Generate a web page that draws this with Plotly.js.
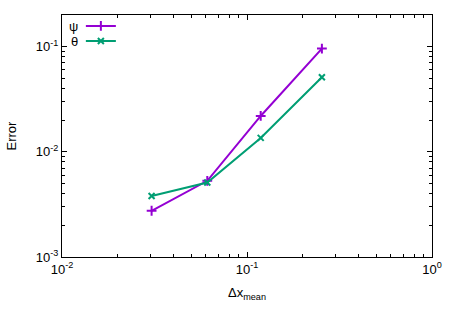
<!DOCTYPE html>
<html><head><meta charset="utf-8">
<script src="https://cdn.plot.ly/plotly-3.0.1.min.js"></script>
<style>html,body{margin:0;padding:0;background:#fff}</style>
</head><body>
<div id="chart" style="width:458px;height:320px"></div>
<script>
const dx = [0.0305, 0.061, 0.1186, 0.254];
const psiErr = [0.00275, 0.0053, 0.0219, 0.0957];
const thetaErr = [0.0038, 0.0051, 0.01355, 0.0511];
const seriesNames = ['ψ', 'θ'];
const xMajor = [0.01, 0.1, 1];
const xMajorText = ['10<sup>-2</sup>', '10<sup>-1</sup>', '10<sup>0</sup>'];
const yMajor = [0.001, 0.01, 0.1];
const yMajorText = ['10<sup>-3</sup>', '10<sup>-2</sup>', '10<sup>-1</sup>'];

function minors(lo, hi) {
  const v = [];
  for (let e = lo; e < hi; e++) for (let k = 2; k <= 9; k++) v.push(k * Math.pow(10, e));
  return v;
}

const font = {family: 'Liberation Sans, Arial, sans-serif', size: 13, color: '#000'};
const traces = [
  {x: dx, y: psiErr, name: ' ', legend: 'legend', mode: 'lines+markers', type: 'scatter',
   line: {color: '#9400d3', width: 2},
   marker: {symbol: 'cross-thin', size: 7, line: {color: '#9400d3', width: 2}}},
  {x: dx, y: thetaErr, name: ' ', legend: 'legend2', mode: 'lines+markers', type: 'scatter',
   line: {color: '#009e73', width: 2},
   marker: {symbol: 'x-thin', size: 6, line: {color: '#009e73', width: 2}}}
];
const axisCommon = {
  type: 'log', showgrid: false, zeroline: false, showline: true, linecolor: '#000', linewidth: 1,
  mirror: 'allticks', ticks: 'inside', ticklen: 5, tickcolor: '#000', tickwidth: 1,
  tickfont: font, tickmode: 'array'
};
const legY = [0.951, 0.889];
const legBase = {x: 0.051, xanchor: 'left', yanchor: 'middle', bgcolor: 'rgba(0,0,0,0)',
                 font: {family: font.family, size: 7}, itemwidth: 30};
const layout = {
  width: 458, height: 320,
  margin: {l: 62, r: 26, t: 14, b: 63},
  paper_bgcolor: '#fff', plot_bgcolor: '#fff',
  font: font,
  showlegend: true,
  legend: Object.assign({}, legBase, {y: legY[0]}),
  legend2: Object.assign({}, legBase, {y: legY[1]}),
  xaxis: Object.assign({}, axisCommon, {
    range: [-2, 0], tickvals: xMajor, ticktext: xMajorText,
    minor: {tickvals: minors(-2, 0), ticks: 'inside', ticklen: 3, tickcolor: '#000'},
    title: {text: 'Δx<sub>mean</sub>', font: font, standoff: 12}
  }),
  yaxis: Object.assign({}, axisCommon, {
    range: [-3, -0.7], tickvals: yMajor, ticktext: yMajorText,
    minor: {tickvals: minors(-3, 0), ticks: 'inside', ticklen: 3, tickcolor: '#000'},
    title: {text: 'Error', font: font, standoff: 16}
  }),
  annotations: seriesNames.map((n, i) => ({
    text: n, xref: 'paper', yref: 'paper', x: 0.049, y: legY[i],
    xanchor: 'right', yanchor: 'middle', showarrow: false, font: font
  }))
};
Plotly.newPlot('chart', traces, layout, {displayModeBar: false, staticPlot: true});
</script>
</body></html>
